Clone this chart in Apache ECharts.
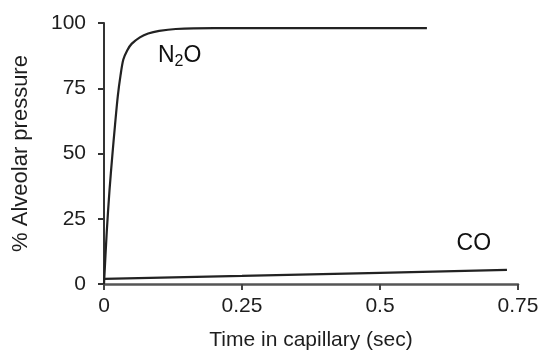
<!DOCTYPE html>
<html><head><meta charset="utf-8">
<script src="https://cdn.jsdelivr.net/npm/echarts@6/dist/echarts.min.js"></script>
<style>html,body{margin:0;padding:0;background:#fff}#c{width:546px;height:356px}</style>
</head><body><div id="c"></div>
<script>
var xTicks = [0, 0.25, 0.5, 0.75];
var yTicks = [0, 25, 50, 75, 100];
var n2oTime = [0, 0.005, 0.01, 0.015, 0.02, 0.025, 0.03, 0.035, 0.042, 0.05, 0.065, 0.08, 0.1, 0.13, 0.2, 0.585];
var n2oPct  = [0, 20, 36, 49, 61, 72, 80, 86, 89.5, 92, 94.5, 96, 97, 97.7, 98, 98];
var coTime = [0, 0.25, 0.5, 0.73];
var coPct  = [2, 3.1, 4.3, 5.4];
var labelText = ['N2O', 'CO'];
var labelTime = [0.137, 0.67];
var labelPct = [87.5, 15.5];

function pairs(a, b) { return a.map(function (x, i) { return [x, b[i]]; }); }
var font = '"Liberation Sans", Arial, sans-serif';
var ink = '#1e1e1e';
var chart = echarts.init(document.getElementById('c'));
chart.setOption({
  animation: false,
  backgroundColor: '#fff',
  grid: {left: 104, right: 28, top: 23, bottom: 71},
  xAxis: {
    type: 'value', min: xTicks[0], max: xTicks[xTicks.length - 1], interval: 0.25,
    name: 'Time in capillary (sec)', nameLocation: 'middle', nameGap: 46,
    nameTextStyle: {fontFamily: font, fontSize: 21, color: ink},
    axisLine: {show: true, lineStyle: {color: '#555', width: 2.5}},
    axisTick: {show: true, inside: false, length: 6, lineStyle: {color: '#444', width: 2}},
    axisLabel: {fontFamily: font, fontSize: 21, color: ink, margin: 12,
      formatter: function (v) { return String(v); }},
    splitLine: {show: false}
  },
  yAxis: {
    type: 'value', min: yTicks[0], max: yTicks[yTicks.length - 1], interval: 25,
    name: '% Alveolar pressure', nameLocation: 'middle', nameGap: 72,
    nameTextStyle: {fontFamily: font, fontSize: 22, color: ink},
    axisLine: {show: true, lineStyle: {color: '#333', width: 2}},
    axisTick: {show: true, inside: false, length: 6, lineStyle: {color: '#333', width: 2}},
    axisLabel: {fontFamily: font, fontSize: 21, color: ink, margin: 18},
    splitLine: {show: false}
  },
  series: [
    {type: 'line', data: pairs(n2oTime, n2oPct), smooth: 0.3, showSymbol: false,
     lineStyle: {color: '#222', width: 2.2}, z: 3},
    {type: 'line', data: pairs(coTime, coPct), smooth: false, showSymbol: false,
     lineStyle: {color: '#222', width: 2.2}, z: 3},
    {type: 'scatter', symbolSize: 1, itemStyle: {color: '#fff', opacity: 1}, z: 5,
     data: labelText.map(function (t, i) { return {value: [labelTime[i], labelPct[i]], name: t}; }),
     label: {show: true, position: 'inside', color: '#111', opacity: 1, textBorderWidth: 0,
       formatter: function (p) { return p.name === 'N2O' ? '{a|N}{b|2}{a|O}' : '{a|' + p.name + '}'; },
       rich: {a: {fontFamily: font, fontSize: 23, color: '#111', textBorderWidth: 0},
              b: {fontFamily: font, fontSize: 16, color: '#111', textBorderWidth: 0, padding: [11, 0, 0, 0]}}}}
  ]
});
</script></body></html>
